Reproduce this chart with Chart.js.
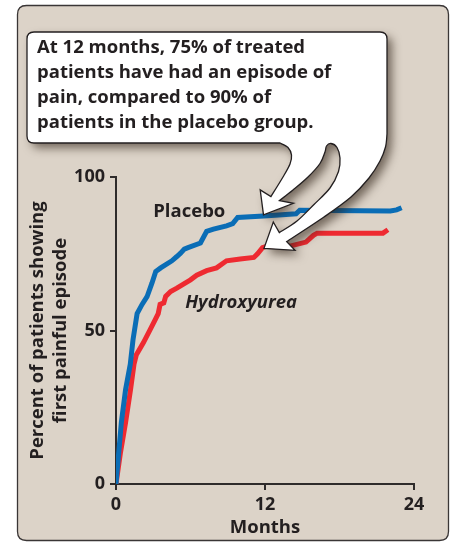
<!DOCTYPE html>
<html>
<head>
<meta charset="utf-8">
<script src="https://cdn.jsdelivr.net/npm/chart.js@4/dist/chart.umd.min.js"></script>
<style>
  html, body { margin: 0; padding: 0; background: #ffffff; }
  canvas { display: block; }
</style>
</head>
<body>
<canvas id="chart" width="454" height="543"></canvas>
<script>
// Cumulative percent of patients with a first painful episode, by month
const placeboMonths = [0, 0.43, 0.77, 1.15, 1.37, 1.7, 2.1, 2.5, 2.9, 3.2, 3.6, 4.5, 4.9, 5.2, 5.5, 5.8, 6.8, 7.3, 7.85, 8.9, 9.4, 9.8, 11.9, 14.5, 14.8, 22.1, 22.6, 23.0];
const placeboPct    = [0, 20, 30.7, 39, 47, 55.5, 58.5, 61, 65.5, 69.2, 70.4, 72.7, 74.1, 75.2, 76.5, 77, 78.5, 82.3, 83, 84.1, 84.8, 86.8, 87.3, 88, 89.2, 88.9, 89.3, 90];

const hydroxyMonths = [0, 0.35, 0.77, 1.17, 1.45, 1.63, 2.2, 2.75, 3.15, 3.4, 3.55, 3.85, 4.0, 4.4, 4.9, 5.5, 6.0, 6.5, 7.3, 8.1, 8.9, 10.0, 11.1, 11.4, 11.8, 12.1, 14.0, 15.3, 15.9, 16.2, 21.5, 21.9];
const hydroxyPct    = [0, 10, 20, 30.7, 39, 42, 46, 50.3, 53.5, 55.5, 58.5, 59, 61.1, 62.7, 63.8, 65.3, 66.5, 68, 69.5, 70.4, 72.7, 73.3, 73.8, 75, 77, 77.4, 77.5, 78.8, 81, 81.7, 81.7, 82.8];

const monthTicks = [0, 12, 24];
const pctTicks = [0, 50, 100];
const seriesNames = ['Placebo', 'Hydroxyurea'];
const calloutMonth = 12;
const calloutLines = [
  'At 12 months, 75% of treated',
  'patients have had an episode of',
  'pain, compared to 90% of',
  'patients in the placebo group.'
];

const FONT = '"Open Sans", "Noto Sans", sans-serif';
const INK = '#231f20';
const BLUE = '#0a6db6';
const RED = '#ee2a31';
const PANEL = '#dcd3c8';

function pairs(xs, ys) { return xs.map((x, i) => ({ x: x, y: ys[i] })); }

function valueAt(xs, ys, m) {
  for (let i = 0; i < xs.length - 1; i++) {
    if (m >= xs[i] && m <= xs[i + 1]) {
      const t = (m - xs[i]) / (xs[i + 1] - xs[i]);
      return ys[i] + t * (ys[i + 1] - ys[i]);
    }
  }
  return ys[ys.length - 1];
}

function roundRect(ctx, x, y, w, h, r) {
  ctx.beginPath();
  ctx.moveTo(x + r, y);
  ctx.lineTo(x + w - r, y);
  ctx.quadraticCurveTo(x + w, y, x + w, y + r);
  ctx.lineTo(x + w, y + h - r);
  ctx.quadraticCurveTo(x + w, y + h, x + w - r, y + h);
  ctx.lineTo(x + r, y + h);
  ctx.quadraticCurveTo(x, y + h, x, y + h - r);
  ctx.lineTo(x, y + r);
  ctx.quadraticCurveTo(x, y, x + r, y);
  ctx.closePath();
}

// smooth curve through a list of points (ctx already at pts[0])
function curveThrough(ctx, pts) {
  for (let i = 0; i < pts.length - 1; i++) {
    const p0 = pts[i - 1] || pts[i], p1 = pts[i], p2 = pts[i + 1], p3 = pts[i + 2] || p2;
    ctx.bezierCurveTo(
      p1[0] + (p2[0] - p0[0]) / 6, p1[1] + (p2[1] - p0[1]) / 6,
      p2[0] - (p3[0] - p1[0]) / 6, p2[1] - (p3[1] - p1[1]) / 6,
      p2[0], p2[1]);
  }
}

const off = (p, dx, dy) => [p[0] + dx, p[1] + dy];

// rounded panel behind the whole figure
const panelPlugin = {
  id: 'panel',
  beforeDraw(chart) {
    const ctx = chart.ctx;
    ctx.save();
    roundRect(ctx, 17.5, 5.5, 431, 535, 9);
    ctx.fillStyle = PANEL;
    ctx.fill();
    ctx.lineWidth = 1.3;
    ctx.strokeStyle = '#3a3636';
    ctx.stroke();
    ctx.restore();
  }
};

// series names and the speech balloon with its two arrows
const notesPlugin = {
  id: 'notes',
  afterDatasetsDraw(chart) {
    const ctx = chart.ctx;
    const xs = chart.scales.x, ys = chart.scales.y;

    ctx.save();
    ctx.fillStyle = INK;
    ctx.textBaseline = 'alphabetic';
    ctx.textAlign = 'left';
    ctx.font = 'bold 18.5px ' + FONT;
    ctx.fillText(seriesNames[0], xs.getPixelForValue(3.0), ys.getPixelForValue(87));
    ctx.font = 'italic bold 18.5px ' + FONT;
    ctx.fillText(seriesNames[1], xs.getPixelForValue(5.57), ys.getPixelForValue(57.4));
    ctx.restore();

    const t1 = [xs.getPixelForValue(calloutMonth) - 1.5, ys.getPixelForValue(valueAt(placeboMonths, placeboPct, calloutMonth)) - 1];
    const t2 = [xs.getPixelForValue(calloutMonth) - 1, ys.getPixelForValue(valueAt(hydroxyMonths, hydroxyPct, calloutMonth)) + 1.5];

    const L = 27, T = 32, R = 387, B = 143, r = 7;
    ctx.save();
    ctx.beginPath();
    ctx.moveTo(L + r, T);
    ctx.lineTo(R - r, T);
    ctx.quadraticCurveTo(R, T, R, T + r);
    ctx.lineTo(R, 134);
    curveThrough(ctx, [[R, 134], [385.5, 147], [380, 161], [369, 178], [351, 197], [324, 217], off(t2, 22.7, -6.7)]);
    ctx.lineTo(...off(t2, 31, 2));
    ctx.lineTo(...t2);
    ctx.lineTo(...off(t2, 9.3, -26.3));
    ctx.lineTo(...off(t2, 15.3, -15.7));
    curveThrough(ctx, [off(t2, 15.3, -15.7), [297, 221], [314, 204.5], [330, 188], [338.5, 171.5], [340, 158], [337, 147.5], [331, 143.5], [326.5, 146], [325, 152], [320, 163.5], [308, 177], [293, 190], off(t1, 16, -14.3)]);
    ctx.lineTo(...off(t1, 30, -11.6));
    ctx.lineTo(...t1);
    ctx.lineTo(...off(t1, -3.3, -25));
    ctx.lineTo(...off(t1, 7.4, -18.3));
    curveThrough(ctx, [off(t1, 7.4, -18.3), [283, 177], [290, 164], [291.5, 155], [288, 147.5], [280, 143]]);
    ctx.lineTo(L + r, B);
    ctx.quadraticCurveTo(L, B, L, B - r);
    ctx.lineTo(L, T + r);
    ctx.quadraticCurveTo(L, T, L + r, T);
    ctx.closePath();

    ctx.shadowColor = 'rgba(45, 32, 20, 0.6)';
    ctx.shadowBlur = 10;
    ctx.shadowOffsetX = 5;
    ctx.shadowOffsetY = 5;
    ctx.fillStyle = '#ffffff';
    ctx.fill();
    ctx.shadowColor = 'transparent';
    ctx.lineWidth = 1.3;
    ctx.lineJoin = 'miter';
    ctx.strokeStyle = INK;
    ctx.stroke();

    ctx.fillStyle = INK;
    ctx.font = 'bold 18.5px ' + FONT;
    ctx.textBaseline = 'alphabetic';
    ctx.textAlign = 'left';
    calloutLines.forEach((line, i) => ctx.fillText(line, 37, 53 + i * 25));
    ctx.restore();
  }
};

new Chart(document.getElementById('chart'), {
  type: 'line',
  data: {
    datasets: [
      {
        label: seriesNames[0],
        data: pairs(placeboMonths, placeboPct),
        borderColor: BLUE,
        borderWidth: 5,
        pointRadius: 0,
        tension: 0,
        fill: false
      },
      {
        label: seriesNames[1],
        data: pairs(hydroxyMonths, hydroxyPct),
        borderColor: RED,
        borderWidth: 5,
        pointRadius: 0,
        tension: 0,
        fill: false
      }
    ]
  },
  options: {
    responsive: false,
    animation: false,
    devicePixelRatio: 1,
    layout: { padding: { left: 0, top: 177, right: 40, bottom: 0 } },
    plugins: { legend: { display: false }, tooltip: { enabled: false } },
    scales: {
      x: {
        type: 'linear',
        min: 0,
        max: 24,
        afterBuildTicks(s) { s.ticks = monthTicks.map(v => ({ value: v })); },
        afterFit(s) { s.height = 59; },
        border: { display: true, color: '#2f2b2b', width: 2 },
        grid: { display: true, drawOnChartArea: false, drawTicks: true, tickLength: 6, color: '#2f2b2b', lineWidth: 2 },
        ticks: { color: INK, font: { family: FONT, size: 18, weight: 'bold' }, padding: 4, maxRotation: 0 },
        title: { display: true, text: 'Months', color: INK, font: { family: FONT, size: 18.5, weight: 'bold' }, padding: { top: 0, bottom: 4 } }
      },
      y: {
        type: 'linear',
        min: 0,
        max: 100,
        afterBuildTicks(s) { s.ticks = pctTicks.map(v => ({ value: v })); },
        afterFit(s) { s.width = 116; },
        border: { display: true, color: '#2f2b2b', width: 2 },
        grid: { display: true, drawOnChartArea: false, drawTicks: true, tickLength: 6, color: '#2f2b2b', lineWidth: 2 },
        ticks: { color: INK, font: { family: FONT, size: 18, weight: 'bold' }, padding: 5 },
        title: {
          display: true,
          text: ['Percent of patients showing', 'first painful episode'],
          color: INK,
          font: { family: FONT, size: 18.5, weight: 'bold', lineHeight: 1.2 },
          padding: { top: 27, bottom: 0 }
        }
      }
    }
  },
  plugins: [panelPlugin, notesPlugin]
});
</script>
</body>
</html>
